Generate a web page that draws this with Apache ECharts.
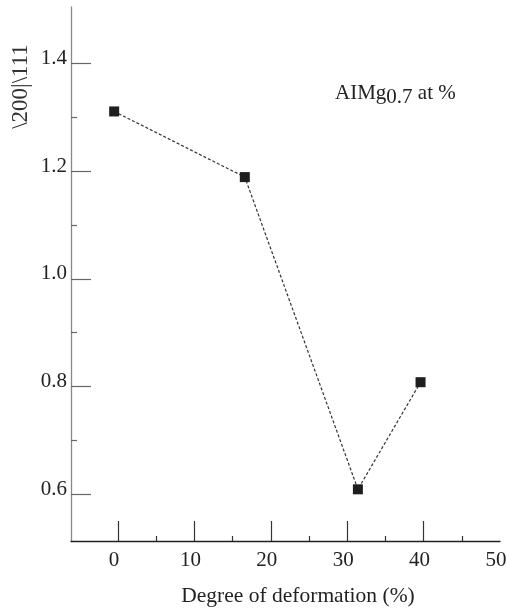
<!DOCTYPE html>
<html>
<head>
<meta charset="utf-8">
<script src="https://cdn.jsdelivr.net/npm/echarts@6/dist/echarts.min.js"></script>
<style>
html,body{margin:0;padding:0;background:#fff;}
#c{width:507px;height:609px;}
</style>
</head>
<body>
<div id="c"></div>
<script>
// Data
const deformation = [-0.5, 16.6, 31.4, 39.6];
const ratio = [1.311, 1.189, 0.609, 0.808];
const xMajorTicks = [0, 10, 20, 30, 40];
const xLabels = [0, 10, 20, 30, 40, 50];
const xMinorTicks = [5, 15, 25, 35, 45];
const yMajorTicks = [0.6, 0.8, 1.0, 1.2, 1.4];
const yMinorTicks = [0.7, 0.9, 1.1, 1.3];
const xTitle = 'Degree of deformation (%)';
const yTitle = '\\200|\\111';

const FONT = '"Liberation Serif", "DejaVu Serif", serif';
const chart = echarts.init(document.getElementById('c'), null, {renderer: 'canvas'});
const X_MIN = -6.15, X_MAX = 50, Y_MIN = 0.513, Y_MAX = 1.505;

chart.setOption({
  animation: false,
  backgroundColor: '#ffffff',
  grid: {left: 71, right: 7, top: 7, bottom: 68, containLabel: false, outerBoundsMode: 'none'},
  xAxis: [
    {
      type: 'value', min: X_MIN, max: X_MAX,
      axisLine: {show: true, onZero: false, lineStyle: {color: '#222', width: 1.3}},
      axisTick: {show: true, inside: true, length: 20, customValues: xMajorTicks, lineStyle: {color: '#333', width: 1.2}},
      axisLabel: {customValues: xLabels, margin: 9, padding: [0, 8, 0, 0], color: '#222', fontFamily: FONT, fontSize: 21},
      splitLine: {show: false},
      name: xTitle, nameLocation: 'middle', nameGap: 44,
      nameTextStyle: {color: '#222', fontFamily: FONT, fontSize: 21.5, padding: [0, 0, 0, 25]}
    },
    {
      type: 'value', min: X_MIN, max: X_MAX, position: 'bottom',
      axisLine: {show: false, onZero: false},
      axisTick: {show: true, inside: true, length: 5, customValues: xMinorTicks, lineStyle: {color: '#333', width: 1.2}},
      axisLabel: {show: false},
      splitLine: {show: false}
    }
  ],
  yAxis: [
    {
      type: 'value', min: Y_MIN, max: Y_MAX,
      axisLine: {show: true, onZero: false, lineStyle: {color: '#888', width: 1.3}},
      axisTick: {show: true, inside: true, length: 20, customValues: yMajorTicks, lineStyle: {color: '#666', width: 1.2}},
      axisLabel: {customValues: yMajorTicks, margin: 4, verticalAlign: 'bottom', lineHeight: 10, color: '#222', fontFamily: FONT, fontSize: 21,
        formatter: v => Number(v).toFixed(1)},
      splitLine: {show: false}
    },
    {
      type: 'value', min: Y_MIN, max: Y_MAX, position: 'left',
      axisLine: {show: false, onZero: false},
      axisTick: {show: true, inside: true, length: 6, customValues: yMinorTicks, lineStyle: {color: '#666', width: 1.2}},
      axisLabel: {show: false},
      splitLine: {show: false}
    }
  ],
  series: [{
    type: 'line',
    xAxisIndex: 0, yAxisIndex: 0,
    data: deformation.map((x, i) => [x, ratio[i]]),
    symbol: 'rect', symbolSize: 10,
    itemStyle: {color: '#1e1e1e'},
    lineStyle: {color: '#333', width: 1.2, type: [3, 2]},
    z: 3
  }],
  graphic: [
    {
      type: 'text', x: 21, y: 86.5, rotation: Math.PI / 2,
      style: {text: yTitle, fill: '#333', font: '23px ' + FONT, align: 'center', verticalAlign: 'middle'}
    },
    {
      type: 'text', left: 335, top: 83,
      style: {
        text: 'AIMg{s|0.7} at %',
        fill: '#222', font: '21px ' + FONT,
        rich: {s: {fontFamily: FONT, fontSize: 21, fill: '#222', padding: [8, 0, 0, 0]}}
      }
    }
  ]
});
</script>
</body>
</html>
